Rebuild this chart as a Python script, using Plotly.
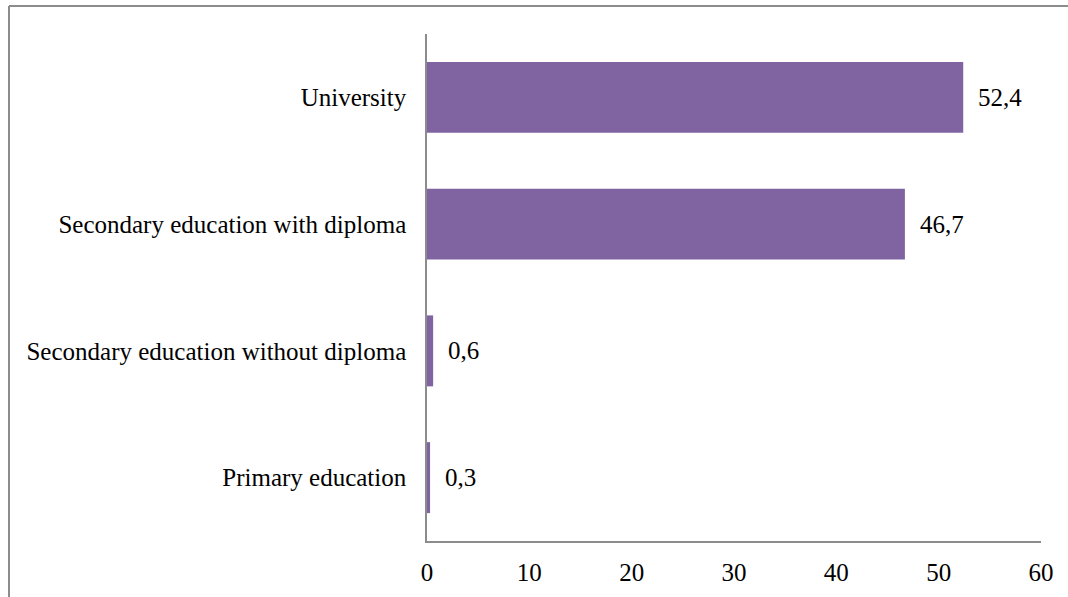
import plotly.graph_objects as go

categories = ["Primary education", "Secondary education without diploma",
              "Secondary education with diploma", "University"]
values = [0.3, 0.6, 46.7, 52.4]
x_ticks = [0, 10, 20, 30, 40, 50, 60]

FONT = "Liberation Serif, Times New Roman, serif"
FS = 25
W, H = 1068, 597
L, R, T, B = 427, 27, 34, 56
pw, ph = W - L - R, H - T - B

fig = go.Figure(go.Bar(
    y=categories, x=values, orientation="h",
    marker=dict(color="#8064A2", line=dict(width=0)),
    width=0.56,
))

for c, v in zip(categories, values):
    fig.add_annotation(x=v, y=c, xref="x", yref="y", text=f"{v:.1f}".replace(".", ","),
                       showarrow=False, xanchor="left", xshift=13,
                       font=dict(family=FONT, size=FS, color="#000"))

# outer chart border (left and top edges visible)
bx = (9 - L) / pw
by = 1 + (T - 6) / ph
fig.add_shape(type="line", xref="paper", yref="paper", x0=bx, x1=bx, y0=-0.2, y1=by,
              line=dict(color="#8c8c8c", width=2))
fig.add_shape(type="line", xref="paper", yref="paper", x0=bx, x1=1.2, y0=by, y1=by,
              line=dict(color="#8c8c8c", width=2))

fig.update_layout(
    width=W, height=H,
    margin=dict(l=L, r=R, t=T, b=B),
    paper_bgcolor="white", plot_bgcolor="white",
    font=dict(family=FONT, size=FS, color="#000"),
    showlegend=False,
    separators=",.",
    xaxis=dict(range=[0, 60], tickvals=x_ticks, showgrid=False, zeroline=False,
               showline=True, linecolor="#8c8c8c", linewidth=1.5, ticks="",
               ticklabelstandoff=8, tickfont=dict(family=FONT, size=FS),
               fixedrange=True),
    yaxis=dict(showgrid=False, zeroline=False, showline=True, linecolor="#8c8c8c",
               linewidth=1.5, ticks="", ticklabelstandoff=14,
               tickfont=dict(family=FONT, size=FS), fixedrange=True),
    bargap=0.44,
)

fig.write_html("out.html")
